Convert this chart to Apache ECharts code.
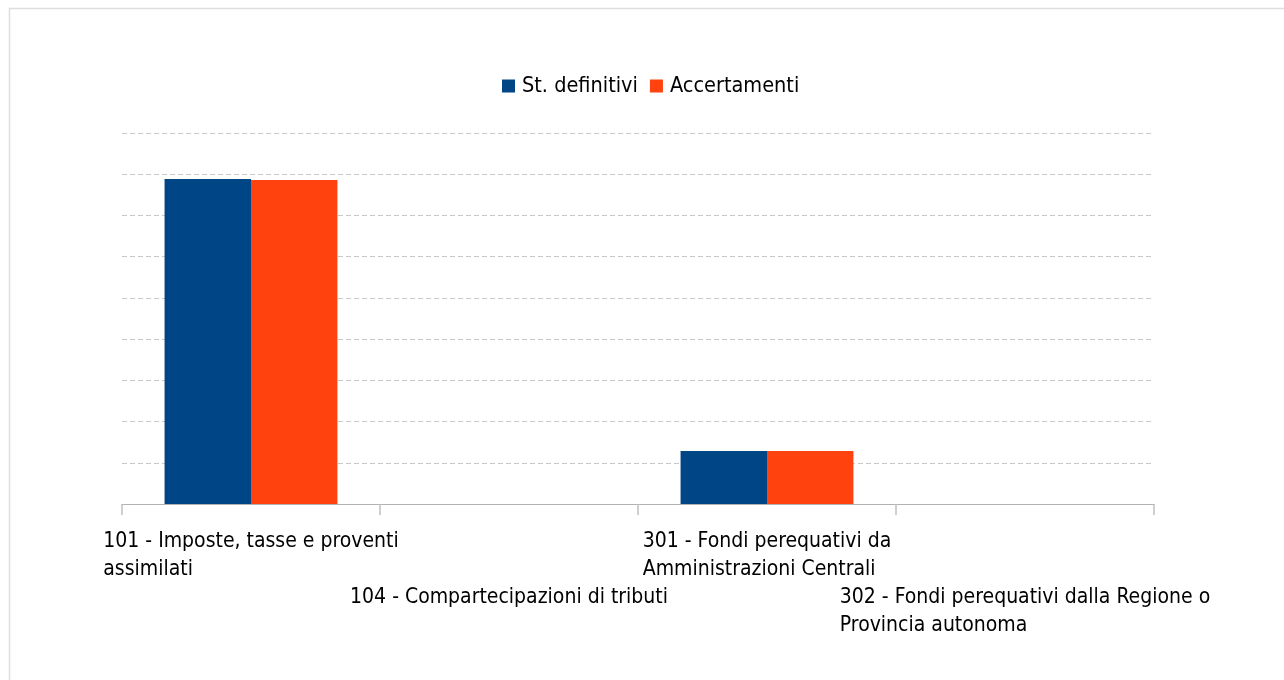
<!DOCTYPE html>
<html>
<head>
<meta charset="utf-8">
<script src="https://cdn.jsdelivr.net/npm/echarts@6/dist/echarts.min.js"></script>
<style>
	html, body { margin: 0; padding: 0; background: #fff; }
	#chart { width: 1284px; height: 680px; }
</style>
</head>
<body>
<div id="chart"></div>
<script>
	// categorie (a capo come nel grafico originale)
	const categories = [
		'101 - Imposte, tasse e proventi\nassimilati',
		'104 - Compartecipazioni di tributi',
		'301 - Fondi perequativi da\nAmministrazioni Centrali',
		'302 - Fondi perequativi dalla Regione o\nProvincia autonoma'
	];
	const seriesNames = ['St. definitivi', 'Accertamenti'];
	const stDefinitivi = [7.885, 0, 1.285, 0];
	const accertamenti = [7.86, 0, 1.285, 0];

	const fontFamily = '"DejaVu Sans Condensed", "DejaVu Sans", sans-serif';

	const myChart = echarts.init(document.getElementById('chart'));

	let option = {
		animation: false,
		color: ['#004586', '#ff420e'],
		graphic: [{
			type: 'rect',
			silent: true,
			shape: { x: 9.5, y: 8.5, width: 1400, height: 800 },
			style: { fill: 'none', stroke: '#dddddd', lineWidth: 1.5 }
		}],
		legend: {
			left: 497,
			top: 70,
			icon: 'rect',
			itemWidth: 13,
			itemHeight: 13,
			itemGap: 12,
			textStyle: {
				fontFamily: fontFamily,
				fontSize: 21.5,
				color: '#000',
				padding: [0, 0, 0, 2]
			},
			data: seriesNames
		},
		grid: {
			left: 122,
			right: 130,
			top: 133,
			bottom: 176,
			containLabel: false,
			outerBoundsMode: 'none'
		},
		xAxis: {
			type: 'category',
			data: categories,
			boundaryGap: true,
			axisLine: {
				lineStyle: { color: '#b3b3b3', width: 1 }
			},
			axisTick: {
				show: true,
				length: 11,
				lineStyle: { color: '#c0c0c0', width: 1.5 }
			},
			axisLabel: {
				interval: 0,
				margin: 24,
				align: 'center',
				verticalAlign: 'top',
				lineHeight: 28,
				fontFamily: fontFamily,
				fontSize: 21,
				color: '#000',
				formatter: function(value, index) {
					let lines = value.split('\n').map(function(l) {
						return '{a|' + l + '}';
					});
					// etichette sfalsate su due righe
					if (index % 2 === 1) {
						lines = ['{a| }', '{a| }'].concat(lines);
					}
					return lines.join('\n');
				},
				rich: {
					a: {
						align: 'left',
						fontFamily: fontFamily,
						fontSize: 21,
						lineHeight: 28,
						color: '#000'
					}
				}
			}
		},
		yAxis: {
			type: 'value',
			min: 0,
			max: 9,
			interval: 1,
			axisLabel: { show: false },
			axisLine: { show: false },
			axisTick: { show: false },
			splitLine: {
				show: true,
				lineStyle: {
					color: '#c8c8c8',
					width: 1,
					type: [5, 3]
				}
			}
		},
		series: [{
				name: seriesNames[0],
				type: 'bar',
				data: stDefinitivi,
				barGap: 0,
				barCategoryGap: '33%'
			},
			{
				name: seriesNames[1],
				type: 'bar',
				data: accertamenti,
				barGap: 0,
				barCategoryGap: '33%'
			}
		]
	};

	myChart.setOption(option);
</script>
</body>
</html>
